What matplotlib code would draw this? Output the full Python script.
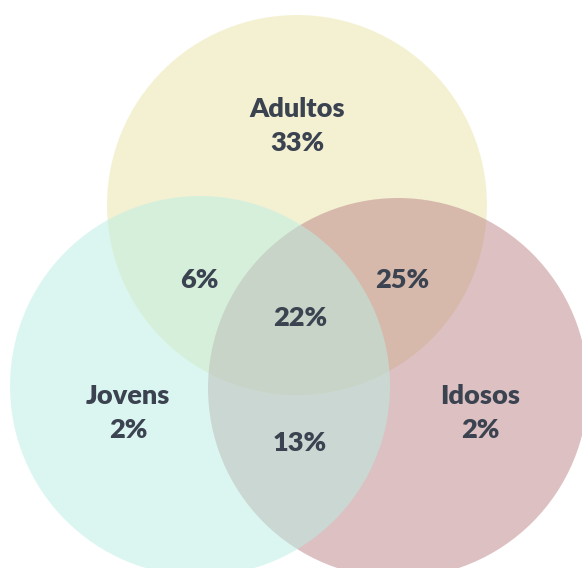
import matplotlib
matplotlib.use("Agg")
import matplotlib.pyplot as plt
from matplotlib.patches import Circle

# Data
sets = ["Adultos", "Jovens", "Idosos"]
only_values = [33, 2, 2]          # Adultos only, Jovens only, Idosos only
pair_labels = ["Adultos∩Jovens", "Adultos∩Idosos", "Jovens∩Idosos"]
pair_values = [6, 25, 13]
all_three = 22

# Layout (pixel coordinates, y downward)
W, H = 582, 568
centers = {"Adultos": (297, 205), "Jovens": (200, 386), "Idosos": (398, 388)}
radius = 190
colors = {"Adultos": "#ebe5a9", "Jovens": "#b9efe3", "Idosos": "#bb8387"}
zorder = {"Adultos": 1, "Idosos": 2, "Jovens": 3}

fig = plt.figure(figsize=(W / 100, H / 100), dpi=100)
ax = fig.add_axes([0, 0, 1, 1])
ax.set_xlim(0, W)
ax.set_ylim(H, 0)
ax.set_aspect("equal")
ax.axis("off")

for s in sets:
    ax.add_patch(Circle(centers[s], radius, facecolor=colors[s], alpha=0.5,
                        edgecolor="none", zorder=zorder[s]))

tc = "#3b4250"
font = dict(family=["Lato", "DejaVu Sans"], fontweight="heavy", color=tc,
            ha="center", va="center", zorder=10, fontsize=19.5)

name_pos = {"Adultos": (297, 109), "Jovens": (128, 396), "Idosos": (480, 396)}
val_pos = {"Adultos": (297, 143), "Jovens": (128, 430), "Idosos": (480, 430)}
for s, v in zip(sets, only_values):
    ax.text(*name_pos[s], s, **font)
    ax.text(*val_pos[s], f"{v}%", **font)

pair_pos = [(199, 280), (402, 280), (300, 443)]
for p, v in zip(pair_pos, pair_values):
    ax.text(*p, f"{v}%", **font)

ax.text(300, 318, f"{all_three}%", **font)

fig.savefig("out.png", dpi=100, facecolor="white")
